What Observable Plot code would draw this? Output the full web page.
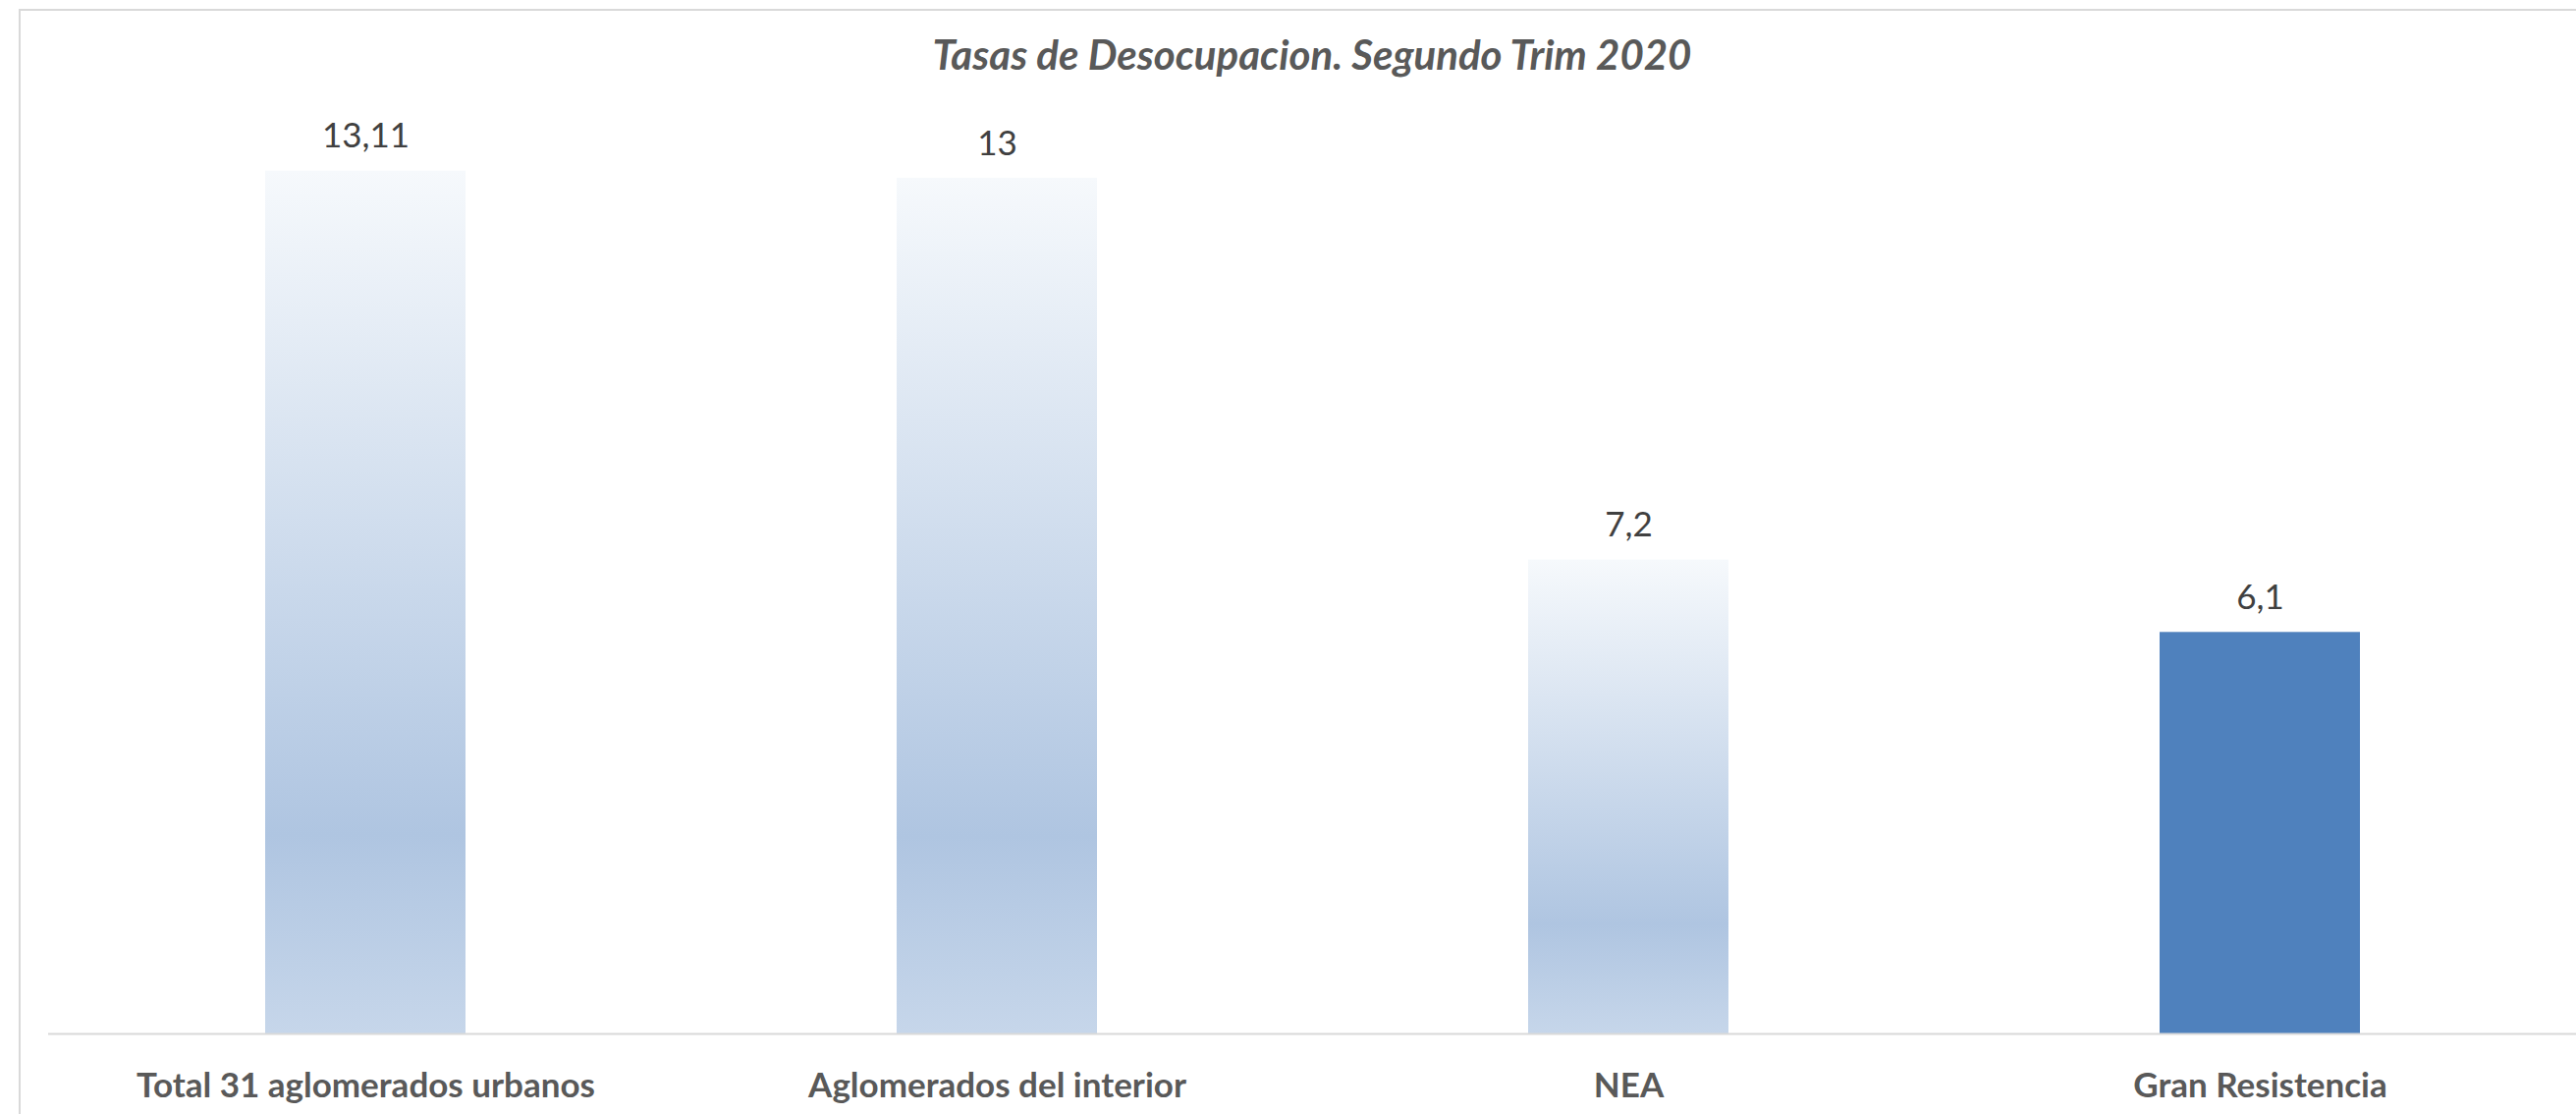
<!DOCTYPE html>
<html>
<head>
<meta charset="utf-8">
<script src="https://cdn.jsdelivr.net/npm/d3@7"></script>
<script src="https://cdn.jsdelivr.net/npm/@observablehq/plot@0.6"></script>
<style>
  html, body { margin: 0; padding: 0; background: #fff; overflow: hidden; }
  #frame { position: absolute; left: 19px; top: 9px; width: 2700px; height: 1200px;
           border-left: 2px solid #d9d9d9; border-top: 2px solid #d9d9d9; box-sizing: border-box; }
  #wrap { position: relative; width: 2623px; height: 1134px; }
  #title { position: relative; height: 100px; width: 2623px; }
  #title span { position: absolute; left: 1336px; top: 55px; transform: translate(-50%, -50%);
                font-family: Lato, sans-serif; font-style: italic; font-weight: bold;
                font-size: 42px; color: #595959; white-space: nowrap; }
  #chart { position: relative; }
</style>
</head>
<body>
<div id="frame"></div>
<div id="wrap">
  <div id="title"><span>Tasas de Desocupacion. Segundo Trim 2020</span></div>
  <div id="chart"></div>
</div>
<script>
const categories = ["Total 31 aglomerados urbanos", "Aglomerados del interior", "NEA", "Gran Resistencia"];
const values = [13.11, 13, 7.2, 6.1];
const valueLabels = ["13,11", "13", "7,2", "6,1"];

const data = categories.map((c, i) => ({category: c, value: values[i], label: valueLabels[i]}));
const gradientBars = data.slice(0, 3);
const solidBars = data.slice(3);

const chart = Plot.plot({
  width: 2623,
  height: 1034,
  marginLeft: 49,
  marginRight: 0,
  marginTop: 14,
  marginBottom: 82,
  style: {background: "transparent", overflow: "visible"},
  x: {domain: categories, paddingInner: 0.683, paddingOuter: 0.3415, label: null},
  y: {domain: [0, 14], axis: null},
  marks: [
    Plot.barY(gradientBars, {x: "category", y: "value", fill: "url(#barGrad)"}),
    Plot.barY(solidBars, {x: "category", y: "value", fill: "#4f81bd"}),
    Plot.ruleY([0], {stroke: "#d9d9d9", strokeWidth: 2}),
    Plot.text(data, {x: "category", y: "value", text: "label", dy: -35, lineAnchor: "middle",
      fontSize: 35, fill: "#404040", fontFamily: "Lato, sans-serif"}),
    Plot.axisX({tickSize: 0, tickPadding: 40, fontSize: 35, fontWeight: "bold", fill: "#595959",
      fontFamily: "Lato, sans-serif", label: null})
  ]
});

d3.select(chart).insert("defs", ":first-child").html(`
  <linearGradient id="barGrad" x1="0" y1="0" x2="0" y2="1">
    <stop offset="0" stop-color="#f6f9fc"/>
    <stop offset="0.77" stop-color="#afc5e1"/>
    <stop offset="1" stop-color="#c6d6ea"/>
  </linearGradient>`);

document.getElementById("chart").appendChild(chart);
</script>
</body>
</html>
